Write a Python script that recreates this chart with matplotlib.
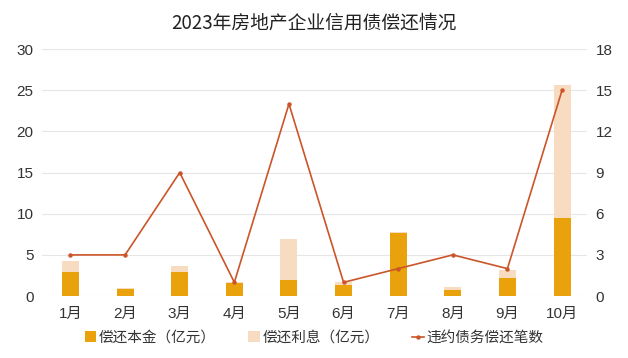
import matplotlib
matplotlib.use("Agg")
import matplotlib.pyplot as plt
import numpy as np

plt.rcParams["font.family"] = ["Noto Sans CJK SC", "DejaVu Sans"]
tick_font = ["Liberation Sans", "Noto Sans CJK SC"]

months = ["1月", "2月", "3月", "4月", "5月", "6月", "7月", "8月", "9月", "10月"]
principal = [2.9, 0.9, 2.9, 1.6, 2.0, 1.4, 7.6, 0.7, 2.2, 9.5]
interest = [1.3, 0.1, 0.7, 0.1, 4.9, 0.3, 0.2, 0.35, 1.0, 16.1]
default_counts = [3, 3, 9, 1, 14, 1, 2, 3, 2, 15]

c_principal = "#E9A20C"
c_interest = "#F8DCC2"
c_line = "#CB5529"

fig = plt.figure(figsize=(6.28, 3.58), dpi=100)
ax = fig.add_axes([0.067, 0.173, 0.868, 0.69])
ax2 = ax.twinx()

x = np.arange(len(months))
ax.bar(x, principal, width=0.31, color=c_principal, label="偿还本金（亿元）", zorder=2)
ax.bar(x, interest, width=0.31, bottom=principal, color=c_interest,
       label="偿还利息（亿元）", zorder=2)
ax2.plot(x, default_counts, color=c_line, linewidth=1.2, marker="o",
         markersize=2.2, label="违约债务偿还笔数", zorder=3)

ax.set_ylim(0, 30)
ax.set_yticks(range(0, 31, 5))
ax2.set_ylim(0, 18)
ax2.set_yticks(range(0, 19, 3))
ax.set_xlim(-0.52, 9.46)
ax.set_xticks(x)
ax.set_xticklabels(months)

ax.grid(axis="y", color="#E6E6E6", linewidth=0.8, zorder=0)
ax.set_axisbelow(True)
for a in (ax, ax2):
    for s in a.spines.values():
        s.set_visible(False)
    a.tick_params(length=0, labelsize=11, colors="#333333")
    for lbl in a.get_xticklabels() + a.get_yticklabels():
        lbl.set_family(tick_font)
ax.tick_params(axis="x", pad=8)
ax.tick_params(axis="y", pad=6)
ax2.tick_params(axis="y", pad=6)

fig.suptitle("2023年房地产企业信用债偿还情况", fontsize=13.5, color="#222222", y=0.965)

h1, l1 = ax.get_legend_handles_labels()
h2, l2 = ax2.get_legend_handles_labels()
fig.legend(h1 + h2, l1 + l2, loc="lower center", bbox_to_anchor=(0.5, 0.0), ncol=3,
           frameon=False, fontsize=10.5, handlelength=0.8, handleheight=0.8,
           handletextpad=0.2, columnspacing=2.2, labelcolor="#333333")

fig.savefig("out.png", dpi=100)
